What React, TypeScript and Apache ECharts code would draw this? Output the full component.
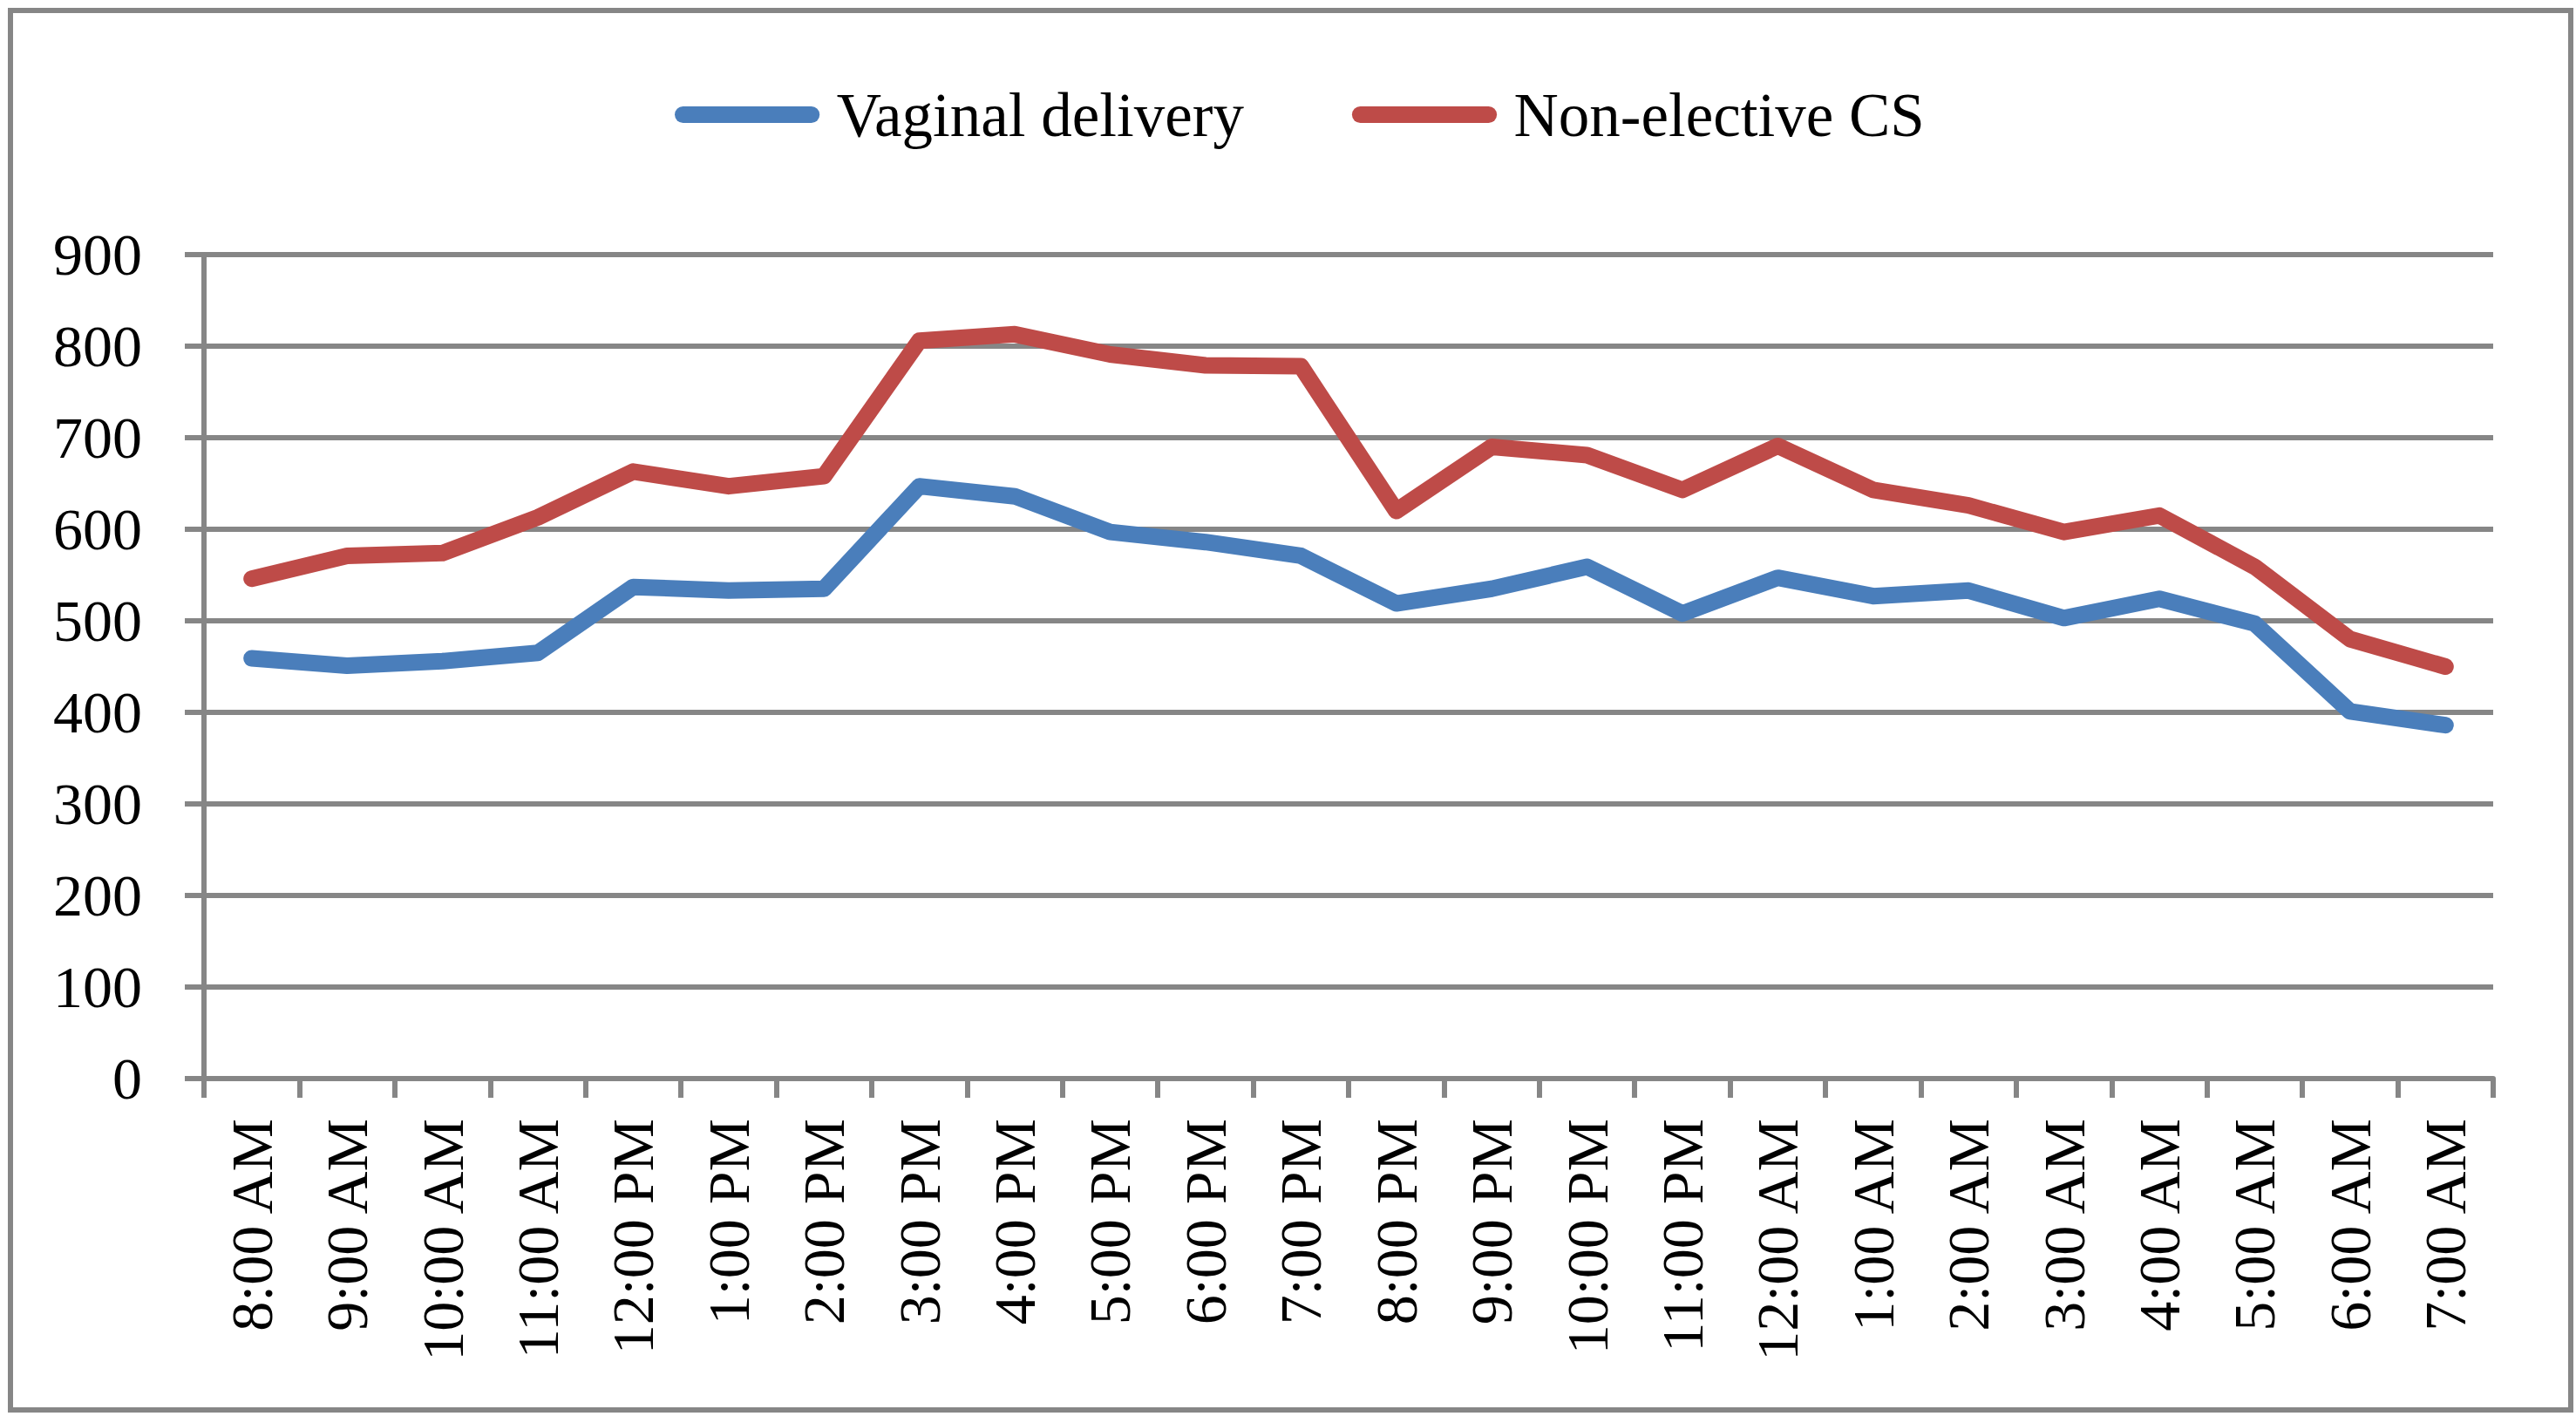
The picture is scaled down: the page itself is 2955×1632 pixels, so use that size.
import React, { useEffect, useRef } from "react";
import * as echarts from "echarts";

const categories = [
  "8:00 AM", "9:00 AM", "10:00 AM", "11:00 AM", "12:00 PM", "1:00 PM",
  "2:00 PM", "3:00 PM", "4:00 PM", "5:00 PM", "6:00 PM", "7:00 PM",
  "8:00 PM", "9:00 PM", "10:00 PM", "11:00 PM", "12:00 AM", "1:00 AM",
  "2:00 AM", "3:00 AM", "4:00 AM", "5:00 AM", "6:00 AM", "7:00 AM",
];

const vaginalDelivery = [
  459, 451, 456, 465, 537, 533, 535, 647, 636, 597, 586, 571,
  519, 535, 559, 508, 547, 527, 533, 503, 524, 497, 401, 386,
];

const nonElectiveCS = [
  546, 571, 574, 613, 663, 647, 658, 806, 813, 791, 779, 778,
  620, 690, 681, 643, 691, 643, 626, 597, 615, 559, 480, 450,
];

const seriesNames = ["Vaginal delivery", "Non-elective CS"];
const seriesColors = ["#4A7EBB", "#BE4B48"];

const FONT = "Liberation Serif";
const GRAY = "#868686";

export default function App() {
  const ref = useRef<HTMLDivElement>(null);

  useEffect(() => {
    if (!ref.current) return;
    const chart = echarts.init(ref.current, undefined, { renderer: "svg" });
    const pill = "path://M10,0 L165,0 A10,10 0 0 1 165,20 L10,20 A10,10 0 0 1 10,0 Z";
    chart.setOption({
      animation: false,
      backgroundColor: "#ffffff",
      textStyle: { fontFamily: FONT },
      legend: {
        left: 769,
        top: 91,
        itemWidth: 175,
        itemHeight: 19,
        itemGap: 124,
        icon: pill,
        textStyle: {
          fontFamily: FONT,
          fontSize: 71,
          color: "#000000",
          lineHeight: 70,
          padding: [0, 0, 0, 10],
        },
        data: seriesNames,
      },
      grid: { left: 234, right: 95, top: 292, bottom: 395, containLabel: false },
      xAxis: {
        type: "category",
        data: categories,
        boundaryGap: true,
        axisLine: { show: true, lineStyle: { color: GRAY, width: 6 } },
        axisTick: { show: true, length: 22, inside: false, alignWithLabel: false, lineStyle: { color: GRAY, width: 6 } },
        axisLabel: {
          rotate: 90,
          margin: 46,
          interval: 0,
          fontFamily: FONT,
          fontSize: 68,
          color: "#000000",
        },
        splitLine: { show: false },
      },
      yAxis: {
        type: "value",
        min: 0,
        max: 900,
        interval: 100,
        axisLine: { show: true, lineStyle: { color: GRAY, width: 6 } },
        axisTick: { show: true, length: 22, inside: false, lineStyle: { color: GRAY, width: 6 } },
        axisLabel: {
          margin: 71,
          fontFamily: FONT,
          fontSize: 68,
          color: "#000000",
        },
        splitLine: { show: true, lineStyle: { color: GRAY, width: 6 } },
      },
      series: [
        {
          name: seriesNames[0],
          type: "line",
          data: vaginalDelivery,
          symbol: "none",
          color: seriesColors[0],
          lineStyle: { color: seriesColors[0], width: 19, cap: "round", join: "round" },
        },
        {
          name: seriesNames[1],
          type: "line",
          data: nonElectiveCS,
          symbol: "none",
          color: seriesColors[1],
          lineStyle: { color: seriesColors[1], width: 19, cap: "round", join: "round" },
        },
      ],
      graphic: [
        {
          type: "rect",
          silent: true,
          z: -1,
          shape: { x: 12, y: 12, width: 2937, height: 1605 },
          style: { fill: "none", stroke: GRAY, lineWidth: 6 },
        },
      ],
    });
    return () => chart.dispose();
  }, []);

  return (
    <div
      ref={ref}
      style={{ position: "fixed", left: 0, top: 0, width: 2955, height: 1632, background: "#fff" }}
    />
  );
}
